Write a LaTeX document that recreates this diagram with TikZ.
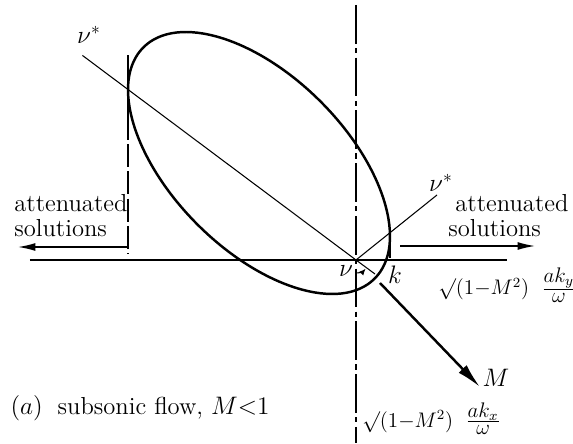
\documentclass[tikz,border=0pt]{standalone}
\usepackage{amsmath,amssymb}
\usepackage{tikz}
\usetikzlibrary{arrows.meta, calc, positioning}
\tikzset{
  axisline/.style = {line width=0.8pt},
  oval/.style     = {line width=1.4pt},
  thinline/.style = {line width=0.6pt},
  dashdot/.style  = {line width=0.8pt, dash pattern=on 22pt off 2.5pt on 3pt off 2.5pt},
  longdash/.style = {line width=0.7pt, dash pattern=on 13pt off 2.5pt},
  attn/.style     = {-{Latex[length=3.5mm,width=1.6mm]}, line width=0.8pt},
  flow/.style     = {-{Latex[length=5mm,width=2.2mm]}, line width=1.4pt},
  lbl/.style      = {font=\fontsize{14}{16}\selectfont, inner sep=0pt},
}
\newcommand{\waveaxis}[1]{%
  {\fontsize{12}{14}\selectfont$\surd(1{-}M^2)$\hspace{7pt}$\frac{\textstyle ak_{#1}}{\textstyle\omega}$}}

\begin{document}
\begin{tikzpicture}
  \useasboundingbox (-7.12,-3.66) rectangle (4.34,5.2);
  % reference points
  \coordinate (O) at (0,0);
  \coordinate (C) at (-1.94,1.94);
  \coordinate (L) at (-4.56,3.41);
  \coordinate (R) at (0.68,0.47);
  \coordinate (xl) at (-6.52,0);
  \coordinate (xr) at (3.02,0);
  \coordinate (yt) at (0,5.1);
  \coordinate (yb) at (0,-3.66);
  % axes
  \draw[axisline] (xl) -- (xr);
  \draw[dashdot] (yt) -- (yb);
  % the ellipse
  \draw[oval, rotate around={-45:(C)}] (C) ellipse [x radius=3.27, y radius=1.74];
  % nu* lines through the tangent points
  \coordinate (nsl) at ($(O)!1.2!(L)$);
  \coordinate (nsr) at (1.62,1.30);
  \draw[thinline] (nsl) -- (O);
  \draw[thinline] (O) -- (nsr);
  % vertical tangents
  \coordinate (ltop) at ($(L)+(0,0.68)$);
  \coordinate (lmid) at ($(L)+(0,-0.55)$);
  \coordinate (lbot) at (-4.56,0.12);
  \draw[thinline] (ltop) -- (lmid);
  \draw[longdash] (lmid) -- (lbot);
  \coordinate (rtop) at (0.68,0.64);
  \coordinate (rbot) at (0.68,0.04);
  \draw[line width=1pt] (rtop) -- (rbot);
  % attenuated arrows
  \coordinate (la1) at (-4.56,0.26);
  \coordinate (la2) at (-6.76,0.26);
  \coordinate (ra1) at (0.88,0.28);
  \coordinate (ra2) at (3.58,0.28);
  \draw[attn] (la1) -- (la2);
  \draw[attn] (ra1) -- (ra2);
  % k direction, angle nu, Mach vector
  \coordinate (kend) at (0.38,-0.28);
  \draw[thinline] (O) -- (kend);
  \draw[thinline, -{Latex[length=1.3mm,width=1.1mm]}] (0,-0.26) arc [start angle=-90, end angle=-42, radius=0.26];
  \coordinate (m1) at (0.48,-0.46);
  \coordinate (m2) at (2.48,-2.54);
  \draw[flow] (m1) -- (m2);
  % labels
  \node[lbl, anchor=base west] (att1) at (-6.84,0.98) {attenuated};
  \node[lbl, anchor=base west] (sol1) at (-6.84,0.46) {solutions};
  \node[lbl, anchor=base west] (att2) at (1.98,0.98) {attenuated};
  \node[lbl, anchor=base west] (sol2) at (1.84,0.46) {solutions};
  \node[lbl] (nus1) at (-5.34,4.5) {$\nu^{*}$};
  \node[lbl] (nus2) at (1.70,1.54) {$\nu^{*}$};
  \node[lbl] (nu) at (-0.2,-0.22) {$\nu$};
  \node[lbl] (k) at (0.78,-0.3) {$k$};
  \node[lbl] (M) at (2.8,-2.36) {$M$};
  \node[lbl, anchor=west] (ky) at (1.64,-0.5) {\waveaxis{y}};
  \node[lbl, anchor=west] (kx) at (0.12,-3.17) {\waveaxis{x}};
  \node[lbl] (cap) at (-4.32,-2.96) {$(a)$\; subsonic flow, $M{<}1$};
\end{tikzpicture}
\end{document}
